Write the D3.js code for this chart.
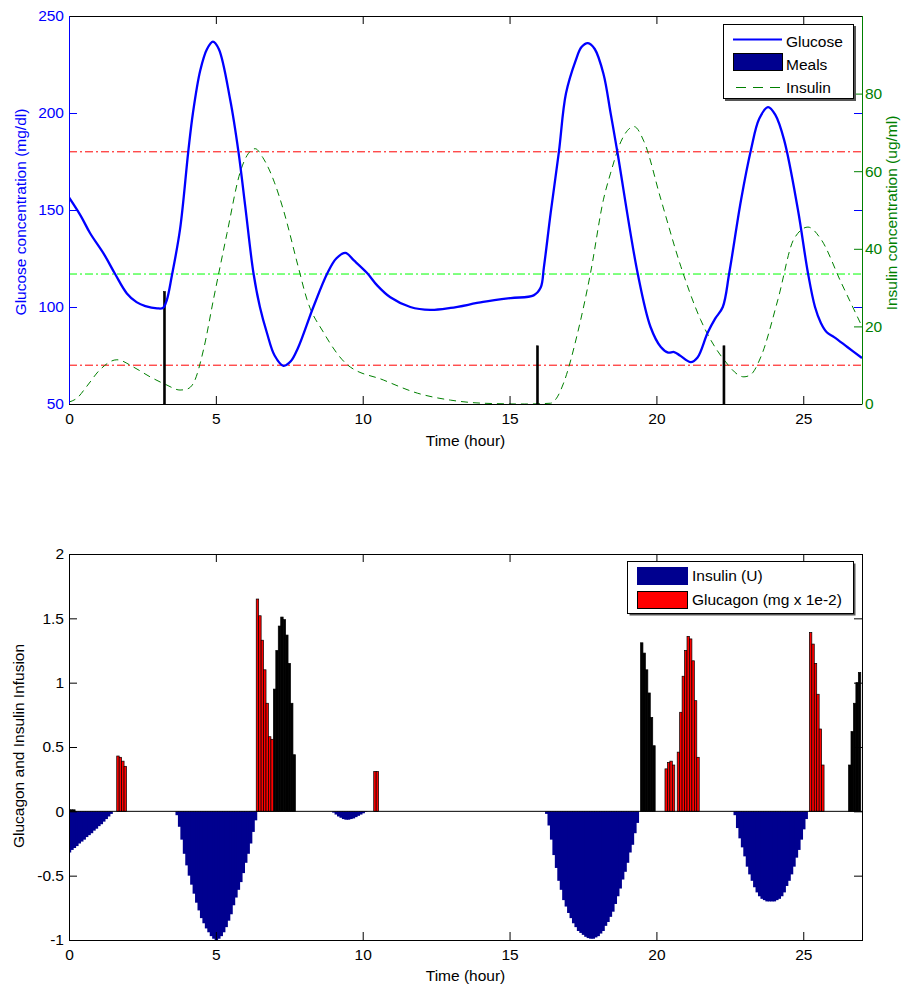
<!DOCTYPE html>
<html><head><meta charset="utf-8">
<script src="https://cdn.jsdelivr.net/npm/d3@7"></script>
<style>
body{margin:0;background:#fff;}
text{font-family:"Liberation Sans",Arial,sans-serif;}
</style></head>
<body><svg id="c" width="902" height="985"></svg>
<script>
// ---------------- DATA ----------------
const xTicks = [0, 5, 10, 15, 20, 25];
const glucoseTicks = [50, 100, 150, 200, 250];
const insulinConcTicks = [0, 20, 40, 60, 80];
const infusionTicks = [-1, -0.5, 0, 0.5, 1, 1.5, 2];

// glucose (mg/dl) vs time (hour)
const glucoseTime = [0,0.4,0.72,1.2,1.57,1.97,2.3,2.6,3.0,3.2,3.33,3.5,3.78,4.06,4.22,4.47,4.7,4.9,5.1,5.49,5.77,6.0,6.28,6.5,6.74,7.0,7.3,7.55,7.8,8.32,8.8,9.1,9.41,9.7,10.15,10.5,10.94,11.62,12.3,12.99,14.1,15.04,15.82,16.06,16.17,16.4,16.68,16.92,17.25,17.45,17.67,17.9,18.2,18.44,18.67,19.36,19.8,20.15,20.4,20.6,20.8,21.17,21.4,21.74,22.0,22.26,22.48,22.88,23.22,23.5,23.8,24.05,24.35,24.82,25.16,25.4,25.6,25.8,26.05,26.5,27];
const glucoseValue = [156.5,147,138,127,117,107,102.5,100.5,99.3,99.5,103.6,116,140,180,200,222,233,236.8,233,206.7,180,152,117.5,100,86.6,75,69.7,72,79,100,117.5,125,127.9,124,117.5,111,105,100,98.5,99.5,102.6,104.6,106,110,120.6,148.5,180,210,227,234,236,233,220,200,180,117.5,89.7,79.4,76.5,76.8,75,71.6,74,86.6,94,100,117.5,155,181,197,203,199,186,150,117.5,100,91.8,87,84.5,79.4,73.7];

// plasma insulin (ug/ml) vs time
const insulinTime = [0,0.27,0.6,1.05,1.63,2.2,2.76,3.3,3.78,4.0,4.24,4.58,4.92,5.38,5.83,6.1,6.34,6.6,7.0,7.3,7.8,8.1,8.67,9.48,10.7,11.86,12.99,14.1,15.5,16.4,16.6,16.84,17.32,17.76,18.2,18.44,18.79,19.24,19.58,20.15,20.83,21.5,22.3,22.98,23.2,23.56,24.14,24.68,25.16,25.6,26.29,27];
const insulinValue = [0.5,1.5,4.5,8.8,11.4,9.5,7,5,3.6,3.8,5.4,14,27,44,59.8,64.5,65.8,63.5,57,50,35.5,27,18.4,10.1,6.2,2.8,1,0.2,0,0.2,1.5,5.4,18.4,33.9,52.8,59.5,67.6,71.5,67.6,52.8,35.5,21.8,11.4,7,7.5,12.2,27,42.5,45.6,42.5,31.3,20];

// meals
const mealTime = [3.25, 15.95, 22.3];
const mealValue = [108, 80, 80];

// reference lines (glucose scale)
const limitLines = [180, 70];
const targetLine = 117;

// infusion bars: 5-minute slots (slot index k -> time k/12 h)
const slotHours = 1 / 12;
const insulinStart = [0, 44, 108, 195, 272];
const insulinDose = [
  [-0.32,-0.30,-0.285,-0.27,-0.25,-0.235,-0.22,-0.20,-0.185,-0.17,-0.15,-0.135,-0.115,-0.10,-0.08,-0.06,-0.04,-0.02],
  [-0.03,-0.12,-0.22,-0.33,-0.42,-0.50,-0.57,-0.64,-0.71,-0.77,-0.83,-0.87,-0.91,-0.94,-0.97,-0.99,-1.0,-0.99,-0.97,-0.94,-0.90,-0.85,-0.80,-0.73,-0.67,-0.61,-0.55,-0.48,-0.40,-0.33,-0.25,-0.16,-0.07],
  [-0.01,-0.025,-0.04,-0.05,-0.06,-0.065,-0.065,-0.06,-0.055,-0.045,-0.035,-0.025,-0.015,-0.005],
  [-0.02,-0.11,-0.22,-0.34,-0.44,-0.54,-0.61,-0.69,-0.74,-0.79,-0.83,-0.87,-0.90,-0.93,-0.945,-0.96,-0.975,-0.985,-0.99,-0.99,-0.98,-0.97,-0.95,-0.93,-0.89,-0.86,-0.82,-0.78,-0.72,-0.66,-0.60,-0.53,-0.47,-0.40,-0.32,-0.26,-0.17,-0.09],
  [-0.03,-0.13,-0.21,-0.28,-0.35,-0.43,-0.49,-0.54,-0.59,-0.63,-0.66,-0.68,-0.69,-0.70,-0.70,-0.70,-0.70,-0.69,-0.68,-0.66,-0.63,-0.58,-0.54,-0.49,-0.43,-0.36,-0.30,-0.22,-0.14,-0.06]
];
const glucagonStart = [20, 77, 125, 244, 249, 303];
const glucagonDose = [
  [0.43,0.42,0.39,0.35],
  [1.65,1.52,1.33,1.10,0.84,0.58,0.56],
  [0.31,0.31],
  [0.33,0.38,0.39,0.36],
  [0.46,0.77,1.05,1.25,1.36,1.34,1.17,0.86,0.42],
  [1.39,1.30,1.15,0.91,0.64,0.36]
];
const extraStart = [0, 84, 234, 319];
const extraDose = [
  [0.012,0.012,0.012],
  [0.95,1.25,1.44,1.51,1.49,1.37,1.15,0.84,0.44],
  [1.31,1.23,1.10,0.92,0.73,0.51],
  [0.36,0.62,0.84,1.0,1.08]
];

// ---------------- DRAW ----------------
const svg = d3.select("#c");
const FS = "15.5px";
const BLUE = "#0000ff", GREEN = "#008000", NAVY = "#00008f";
const L = 69, R = 862;
const x = d3.scaleLinear().domain([0, 27]).range([L, R]);

const defs = svg.append("defs");
defs.append("clipPath").attr("id","clipTop").append("rect").attr("x",L).attr("y",16).attr("width",R-L).attr("height",388);
defs.append("clipPath").attr("id","clipBot").append("rect").attr("x",L).attr("y",554).attr("width",R-L).attr("height",386);

function styleAxis(g, color){
  g.select(".domain").remove();
  g.selectAll("line").attr("stroke", color);
  g.selectAll("text").attr("fill", color).style("font-size", FS).style("font-family","Liberation Sans, Arial, sans-serif");
}

// ===== TOP CHART =====
const T0 = 16, T1 = 404;
const yG = d3.scaleLinear().domain([50, 250]).range([T1, T0]);
const yI = d3.scaleLinear().domain([0, 100]).range([T1, T0]);
const topG = svg.append("g");
const plotT = topG.append("g").attr("clip-path","url(#clipTop)");

// reference lines
plotT.selectAll("line.lim").data(limitLines).enter().append("line")
  .attr("x1", L).attr("x2", R).attr("y1", d=>yG(d)).attr("y2", d=>yG(d))
  .attr("stroke","#ff0000").attr("stroke-width",1).attr("stroke-dasharray","8,3,2,3");
plotT.append("line").attr("x1",L).attr("x2",R).attr("y1",yG(targetLine)).attr("y2",yG(targetLine))
  .attr("stroke","#00ff00").attr("stroke-width",1).attr("stroke-dasharray","8,3,2,3");

// insulin concentration dashed
const insPts = insulinTime.map((t,i)=>[t, insulinValue[i]]);
plotT.append("path").attr("d", d3.line().x(d=>x(d[0])).y(d=>yI(d[1])).curve(d3.curveMonotoneX)(insPts))
  .attr("fill","none").attr("stroke",GREEN).attr("stroke-width",1).attr("stroke-dasharray","7,5");

// meals
plotT.selectAll("rect.meal").data(mealTime).enter().append("rect")
  .attr("x", d=>x(d)-1).attr("width",2)
  .attr("y", (d,i)=>yG(mealValue[i])).attr("height",(d,i)=>yG(50)-yG(mealValue[i]))
  .attr("fill","#000").attr("stroke","#000").attr("stroke-width",0.6);

// glucose
const gluPts = glucoseTime.map((t,i)=>[t, glucoseValue[i]]);
plotT.append("path").attr("d", d3.line().x(d=>x(d[0])).y(d=>yG(d[1])).curve(d3.curveCatmullRom.alpha(0.5))(gluPts))
  .attr("fill","none").attr("stroke",BLUE).attr("stroke-width",2.3);

// axes top chart
const axB = topG.append("g").attr("transform",`translate(0,${T1})`)
  .call(d3.axisBottom(x).tickValues(xTicks).tickSize(-8).tickPadding(9).tickFormat(d3.format("d")));
styleAxis(axB,"#000");
const axT = topG.append("g").attr("transform",`translate(0,${T0})`)
  .call(d3.axisTop(x).tickValues(xTicks).tickSize(-8).tickFormat(""));
styleAxis(axT,"#000");
const axL = topG.append("g").attr("transform",`translate(${L},0)`)
  .call(d3.axisLeft(yG).tickValues(glucoseTicks).tickSize(-8).tickPadding(5).tickFormat(d3.format("d")));
styleAxis(axL, BLUE);
const axRb = topG.append("g").attr("transform",`translate(${R},0)`)
  .call(d3.axisRight(yG).tickValues(glucoseTicks).tickSize(-8).tickFormat(""));
styleAxis(axRb, BLUE);
const axRg = topG.append("g").attr("transform",`translate(${R},0)`)
  .call(d3.axisRight(yI).tickValues(insulinConcTicks).tickSize(-8).tickPadding(3).tickFormat(d3.format("d")));
styleAxis(axRg, GREEN);

topG.append("line").attr("x1",L).attr("x2",R).attr("y1",T0+0.5).attr("y2",T0+0.5).attr("stroke","#000");
topG.append("line").attr("x1",L).attr("x2",R).attr("y1",T1+0.5).attr("y2",T1+0.5).attr("stroke","#000");
topG.append("line").attr("x1",L+0.5).attr("x2",L+0.5).attr("y1",T0).attr("y2",T1).attr("stroke",BLUE);
topG.append("line").attr("x1",R+0.5).attr("x2",R+0.5).attr("y1",T0).attr("y2",T1+0.5).attr("stroke",GREEN);

topG.append("text").attr("x",(L+R)/2).attr("y",446).attr("text-anchor","middle").style("font-size",FS).text("Time (hour)");
topG.append("text").attr("transform",`translate(26,212) rotate(-90)`).attr("text-anchor","middle")
  .attr("fill",BLUE).style("font-size",FS).text("Glucose concentration (mg/dl)");
topG.append("text").attr("transform",`translate(897,213) rotate(-90)`).attr("text-anchor","middle")
  .attr("fill",GREEN).style("font-size",FS).text("Insulin concentration (ug/ml)");

// legend top
const lg = topG.append("g");
lg.append("rect").attr("x",725).attr("y",26).attr("width",131).attr("height",75).attr("fill","#555");
lg.append("rect").attr("x",723.5).attr("y",24.5).attr("width",130).attr("height",74).attr("fill","#fff").attr("stroke","#000");
lg.append("line").attr("x1",733).attr("x2",782).attr("y1",39.5).attr("y2",39.5).attr("stroke",BLUE).attr("stroke-width",2);
lg.append("rect").attr("x",733.5).attr("y",53.5).attr("width",49).attr("height",17).attr("fill",NAVY).attr("stroke","#000");
lg.append("line").attr("x1",736).attr("x2",782).attr("y1",87.5).attr("y2",87.5).attr("stroke",GREEN).attr("stroke-dasharray","10,7");
[["Glucose",42],["Meals",65],["Insulin",88]].forEach(([t,yy])=>{
  lg.append("text").attr("x",786).attr("y",yy).attr("dy","0.35em").style("font-size",FS).text(t);
});

// ===== BOTTOM CHART =====
const B0 = 554, B1 = 940;
const yB = d3.scaleLinear().domain([-1, 2]).range([B1, B0]);
const botG = svg.append("g");
const plotB = botG.append("g").attr("clip-path","url(#clipBot)");

function flatten(starts, doses){
  const out = [];
  starts.forEach((s,i)=>doses[i].forEach((v,j)=>out.push({t:(s+j)*slotHours, v:v})));
  return out;
}
const insBars = flatten(insulinStart, insulinDose);
const glgBars = flatten(glucagonStart, glucagonDose);
const extBars = flatten(extraStart, extraDose);
const bw = x(slotHours) - x(0);

plotB.selectAll("rect.ins").data(insBars).enter().append("rect")
  .attr("x", d=>x(d.t)-bw/2).attr("width", bw+1)
  .attr("y", yB(0)).attr("height", d=>yB(d.v)-yB(0))
  .attr("fill", NAVY);
plotB.selectAll("rect.ext").data(extBars).enter().append("rect")
  .attr("x", d=>x(d.t)-bw/2).attr("width", bw)
  .attr("y", d=>yB(d.v)).attr("height", d=>yB(0)-yB(d.v))
  .attr("fill", "#000").attr("stroke","#000").attr("stroke-width",0.7);
plotB.selectAll("rect.glg").data(glgBars).enter().append("rect")
  .attr("x", d=>x(d.t)-bw/2).attr("width", bw)
  .attr("y", d=>yB(d.v)).attr("height", d=>yB(0)-yB(d.v))
  .attr("fill", "#ff0000").attr("stroke","#000").attr("stroke-width",0.7);

botG.append("line").attr("x1",L).attr("x2",R).attr("y1",yB(0)).attr("y2",yB(0)).attr("stroke","#000");

const bB = botG.append("g").attr("transform",`translate(0,${B1})`)
  .call(d3.axisBottom(x).tickValues(xTicks).tickSize(-8).tickPadding(9).tickFormat(d3.format("d")));
styleAxis(bB,"#000");
const bT = botG.append("g").attr("transform",`translate(0,${B0})`)
  .call(d3.axisTop(x).tickValues(xTicks).tickSize(-8).tickFormat(""));
styleAxis(bT,"#000");
const bL = botG.append("g").attr("transform",`translate(${L},0)`)
  .call(d3.axisLeft(yB).tickValues(infusionTicks).tickSize(-8).tickPadding(5).tickFormat(d=>String(d)));
styleAxis(bL,"#000");
const bR = botG.append("g").attr("transform",`translate(${R},0)`)
  .call(d3.axisRight(yB).tickValues(infusionTicks).tickSize(-8).tickFormat(""));
styleAxis(bR,"#000");
botG.append("rect").attr("x",L+0.5).attr("y",B0+0.5).attr("width",R-L).attr("height",B1-B0).attr("fill","none").attr("stroke","#000");

botG.append("text").attr("x",(L+R)/2).attr("y",981).attr("text-anchor","middle").style("font-size",FS).text("Time (hour)");
botG.append("text").attr("transform",`translate(24,746) rotate(-90)`).attr("text-anchor","middle")
  .style("font-size",FS).text("Glucagon and Insulin Infusion");

const lb = botG.append("g");
lb.append("rect").attr("x",629.5).attr("y",563.5).attr("width",226).attr("height",52).attr("fill","#555");
lb.append("rect").attr("x",627.5).attr("y",561.5).attr("width",226).attr("height",52).attr("fill","#fff").attr("stroke","#000");
lb.append("rect").attr("x",637.5).attr("y",567.5).attr("width",50).attr("height",17).attr("fill",NAVY).attr("stroke",NAVY);
lb.append("rect").attr("x",637.5).attr("y",591.5).attr("width",50).attr("height",17).attr("fill","#ff0000").attr("stroke","#000");
[["Insulin (U)",576],["Glucagon (mg x 1e-2)",600]].forEach(([t,yy])=>{
  lb.append("text").attr("x",692).attr("y",yy).attr("dy","0.35em").style("font-size",FS).text(t);
});
</script></body></html>
